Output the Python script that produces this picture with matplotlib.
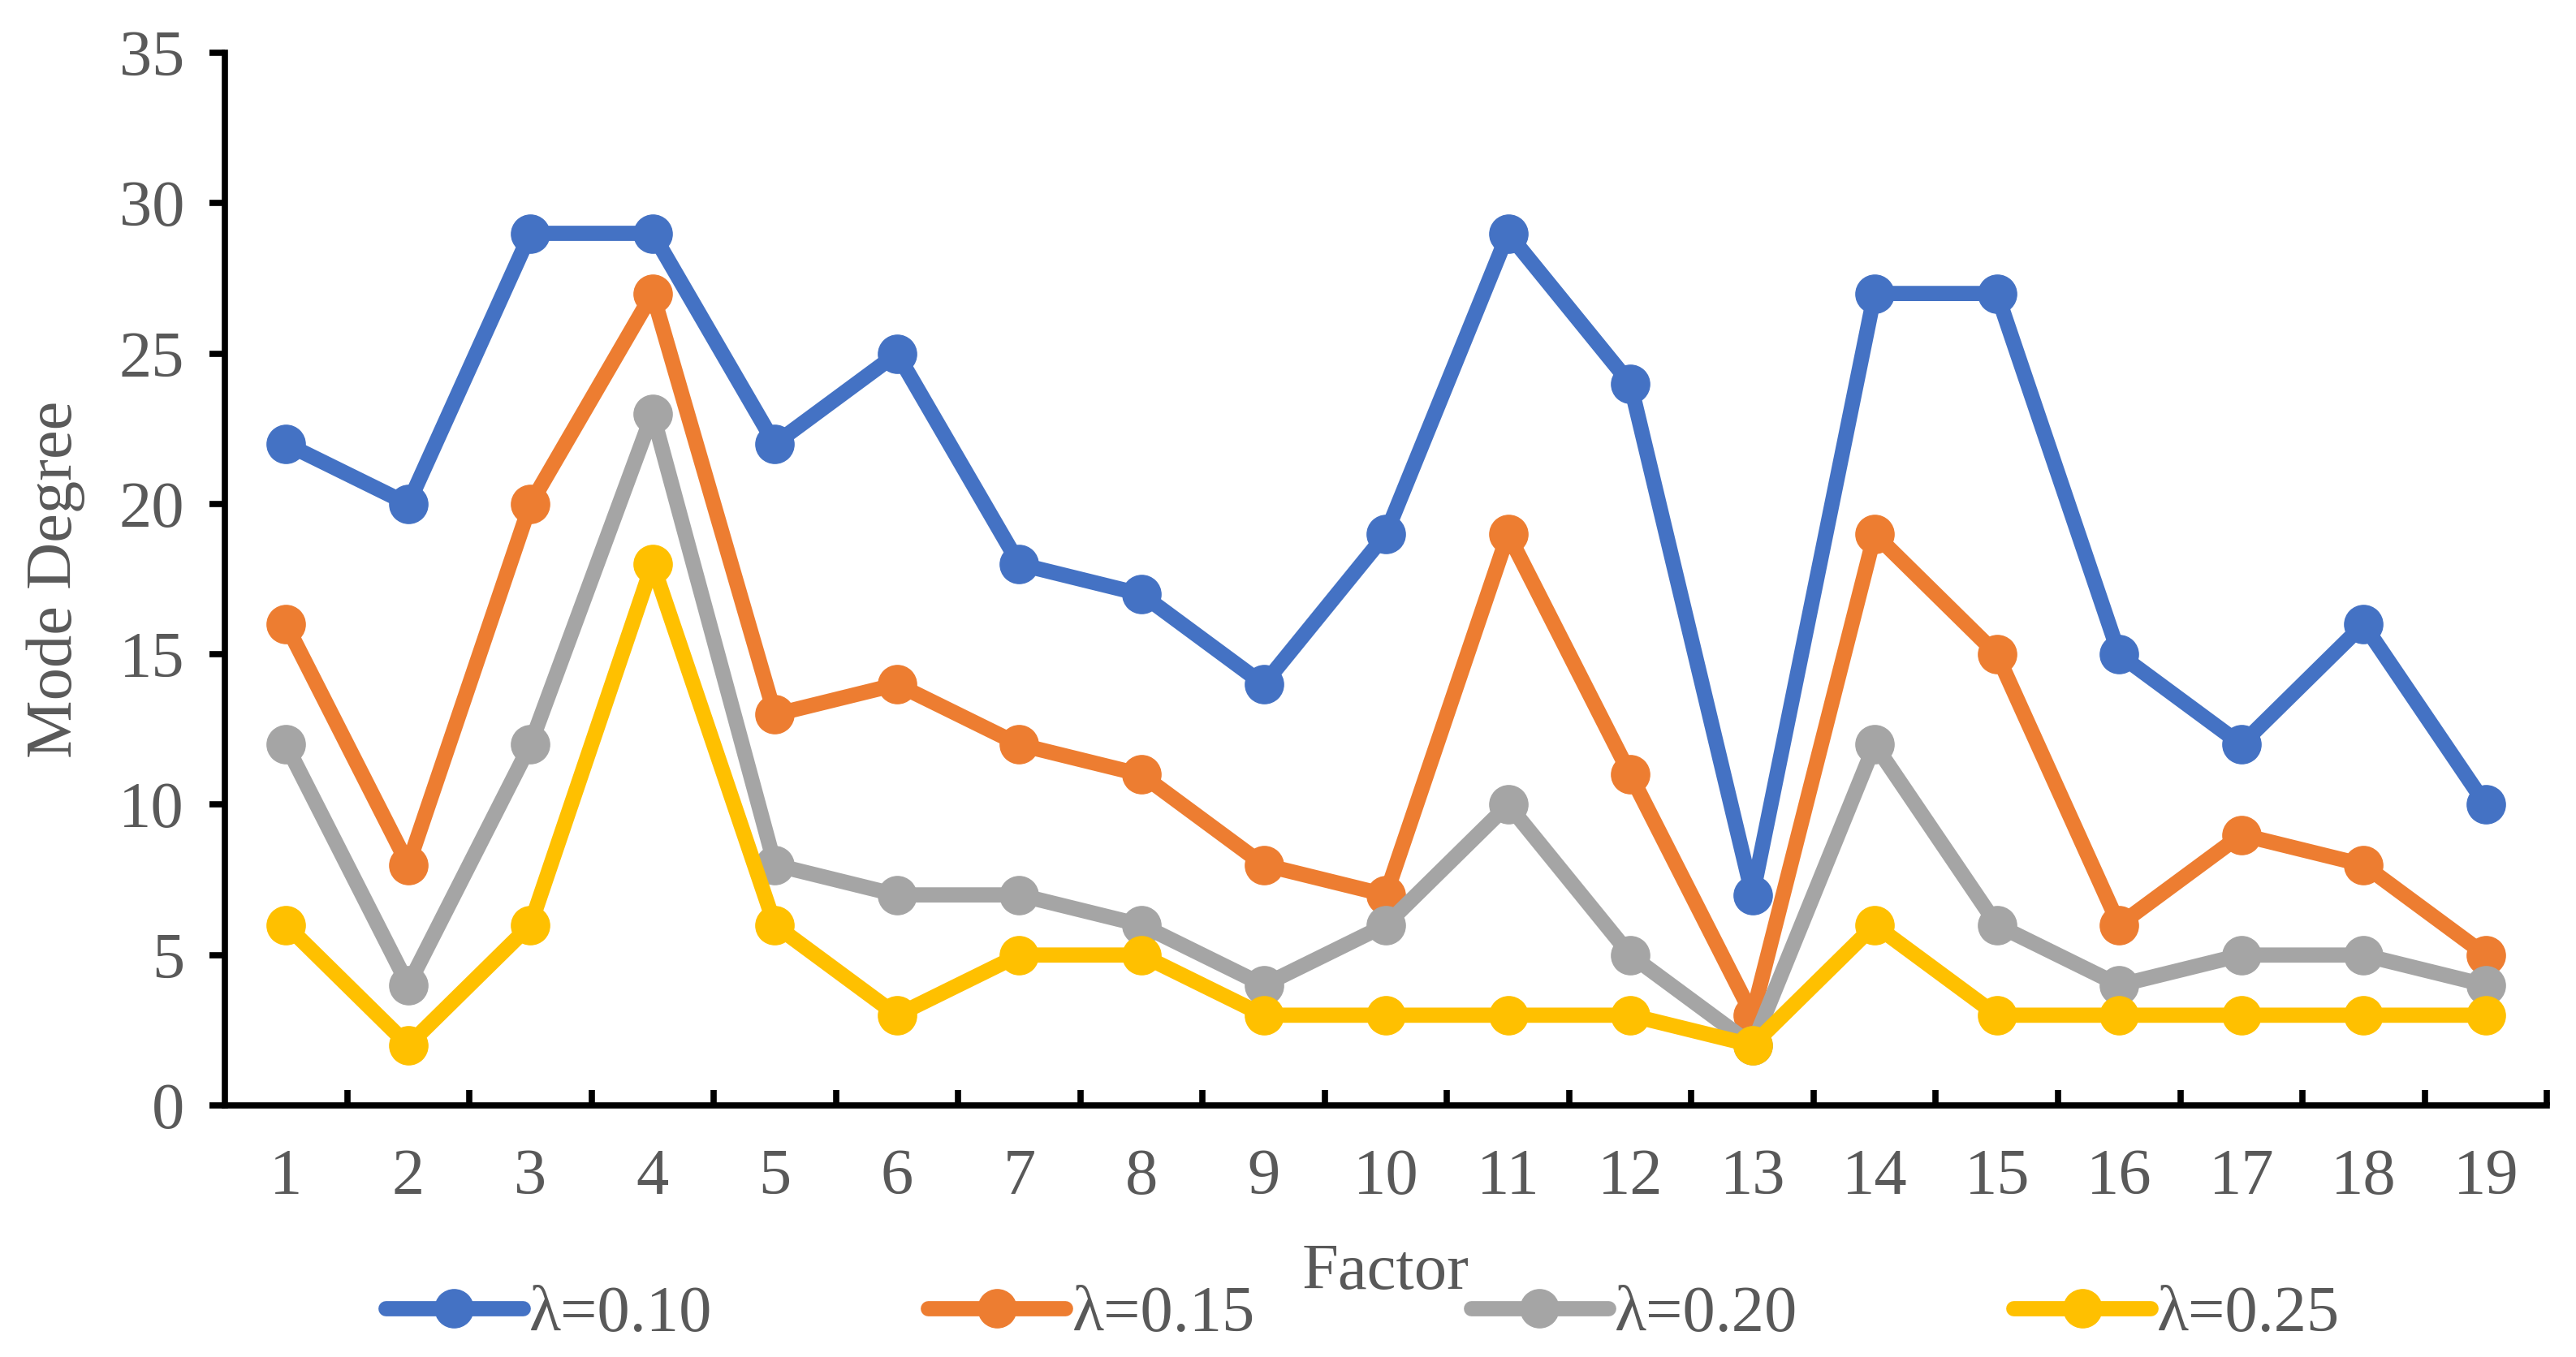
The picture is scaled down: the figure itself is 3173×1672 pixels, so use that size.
import numpy as np
import matplotlib.pyplot as plt

# данные
factors = list(range(1, 20))
lam_010 = [22, 20, 29, 29, 22, 25, 18, 17, 14, 19, 29, 24, 7, 27, 27, 15, 12, 16, 10]
lam_015 = [16, 8, 20, 27, 13, 14, 12, 11, 8, 7, 19, 11, 3, 19, 15, 6, 9, 8, 5]
lam_020 = [12, 4, 12, 23, 8, 7, 7, 6, 4, 6, 10, 5, 2, 12, 6, 4, 5, 5, 4]
lam_025 = [6, 2, 6, 18, 6, 3, 5, 5, 3, 3, 3, 3, 2, 6, 3, 3, 3, 3, 3]
labels = ['λ=0.10', 'λ=0.15', 'λ=0.20', 'λ=0.25']
colors = ['#4472C4', '#ED7D31', '#A5A5A5', '#FFC000']

plt.rcParams['font.family'] = ['Liberation Serif', 'DejaVu Serif']
text_color = '#595959'
fs = 58

fig = plt.figure(figsize=(31.73, 16.72), dpi=100)
ax = fig.add_axes([0.0873, 0.1854, 0.9014, 0.7756])

for vals, lab, col in zip([lam_010, lam_015, lam_020, lam_025], labels, colors):
    ax.plot(factors, vals, color=col, lw=13.5, marker='o', ms=34, label=lab,
            solid_capstyle='round', solid_joinstyle='round')

ax.set_xlim(0.5, 19.5)
ax.set_ylim(0, 35)
ax.set_yticks(np.arange(0, 36, 5))
ax.set_xticks(np.arange(1.5, 19.6, 1))
ax.set_xticklabels([])
ax.set_xticks(factors, minor=True)
ax.set_xticklabels([str(f) for f in factors], minor=True)

for s in ['top', 'right']:
    ax.spines[s].set_visible(False)
for s in ['left', 'bottom']:
    ax.spines[s].set_linewidth(5.5)
    ax.spines[s].set_color('black')

ax.tick_params(axis='x', which='major', direction='in', length=14, width=5.5, color='black')
ax.tick_params(axis='x', which='minor', length=0, pad=38, labelsize=fs, labelcolor=text_color)
ax.tick_params(axis='y', direction='out', length=14, width=5.5, pad=22, labelsize=fs, labelcolor=text_color)

ax.set_xlabel('Factor', fontsize=fs, color=text_color, labelpad=32)
ax.set_ylabel('Mode Degree', fontsize=fs, color=text_color, labelpad=30)

leg = fig.legend(loc='center', bbox_to_anchor=(0.529, 0.031), ncol=4, frameon=False,
                 fontsize=fs, labelcolor=text_color, handlelength=2.1,
                 columnspacing=3.3, handletextpad=0.1)

fig.savefig('out.png', dpi=100)
